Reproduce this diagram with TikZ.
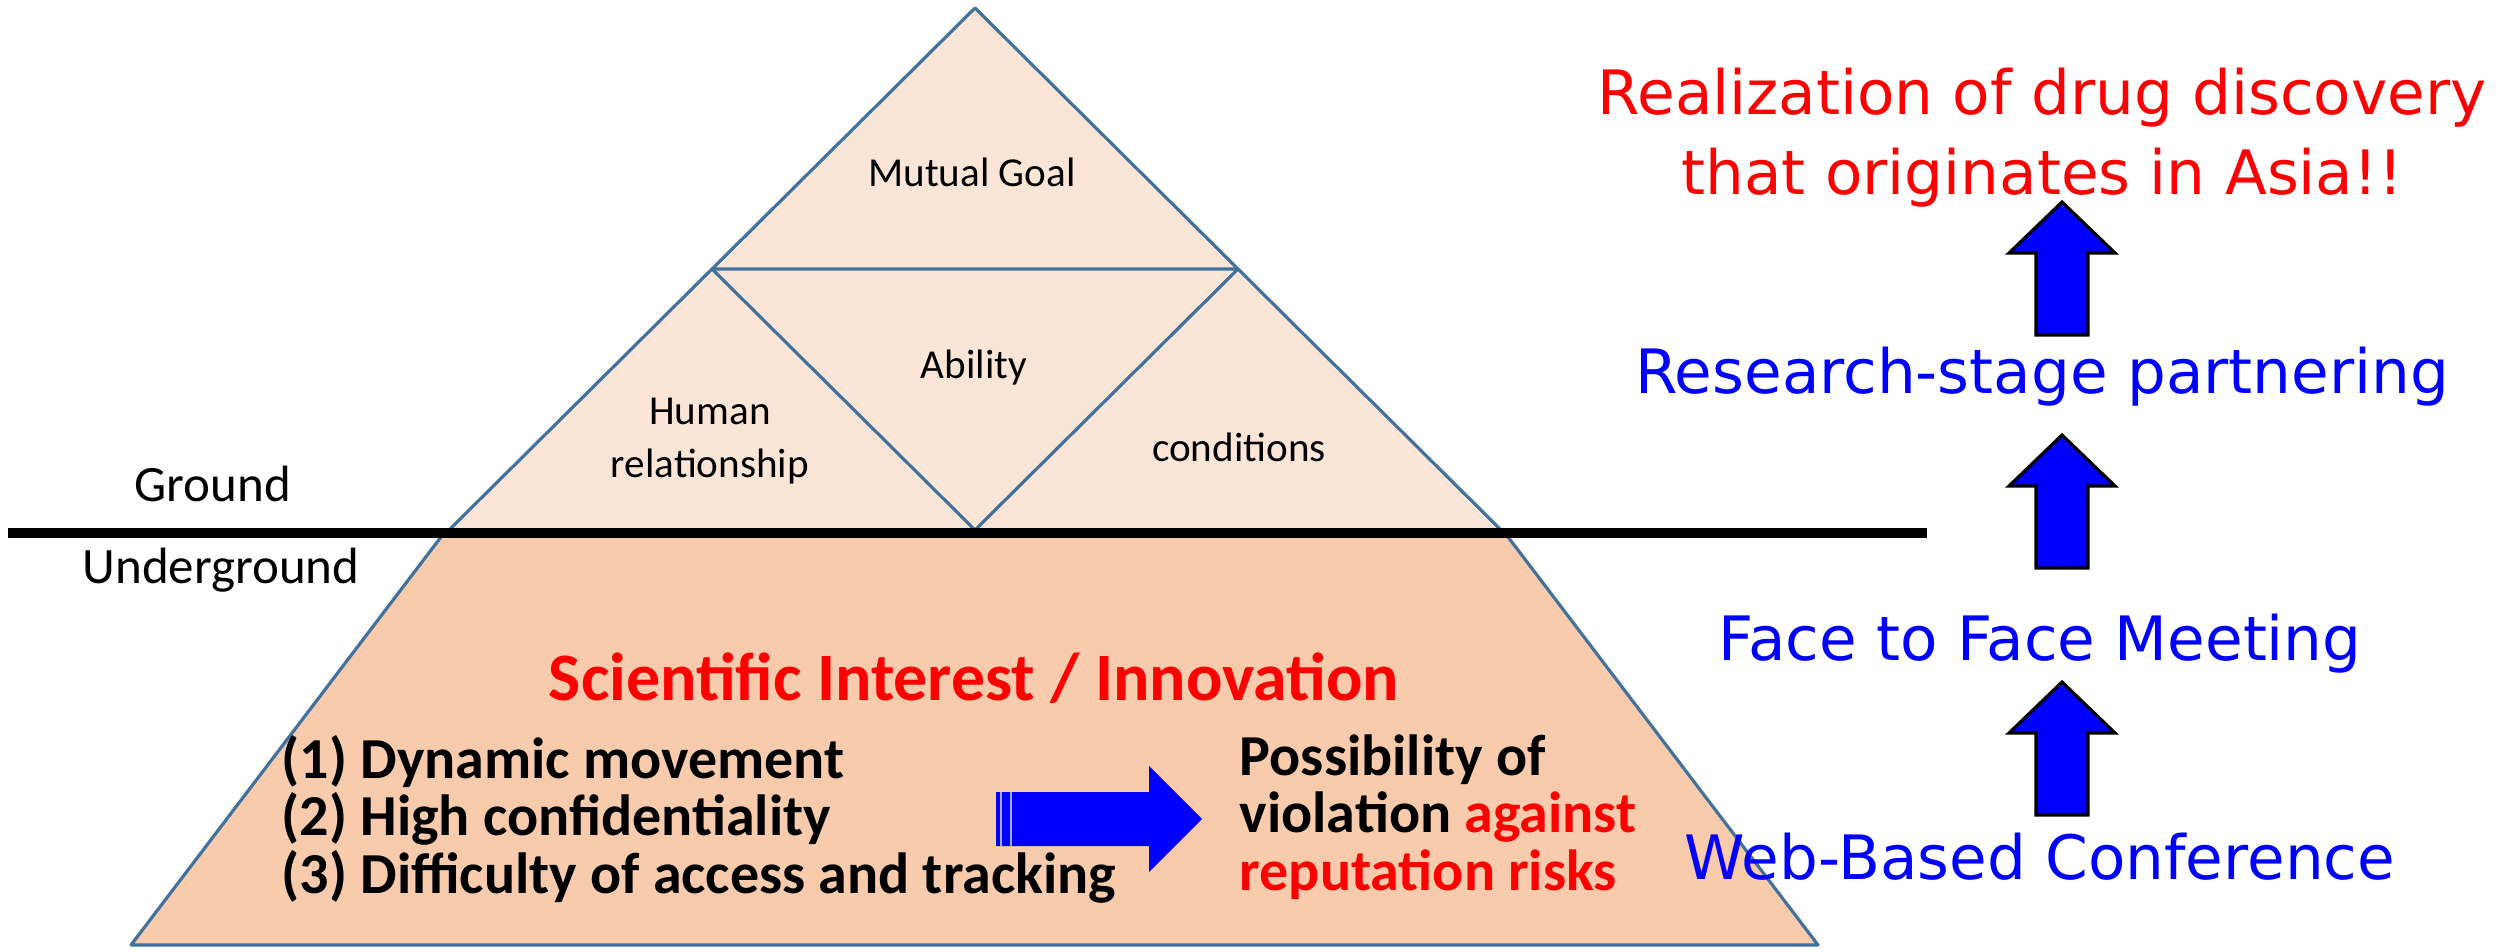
\documentclass[tikz,border=0pt]{standalone}
\usepackage{fontspec}
\setmainfont{Carlito}
\newfontfamily\verdfont{DejaVu Sans}
\usepackage{xcolor}
\usepackage{tikz}
\usetikzlibrary{calc}
\definecolor{peachlight}{HTML}{FBE5D6}
\definecolor{peach}{HTML}{F8CBAD}
\definecolor{edgeblue}{HTML}{41719C}

\begin{document}
\begin{tikzpicture}[
    x=0.01cm, y=-0.01cm,
    face/.style={fill=peachlight, draw=edgeblue, line width=0.9pt, line join=round},
    basement/.style={fill=peach, draw=edgeblue, line width=0.9pt, line join=round},
    tag/.style={font=\fontsize{11.7}{14.8}\selectfont, align=center, anchor=base},
    level/.style={font=\fontsize{14.5}{17}\selectfont, anchor=base},
    point/.style={font=\bfseries\fontsize{16.5}{16.3}\selectfont, align=left, anchor=base west},
    stage/.style={font=\verdfont\fontsize{17.4}{22.5}\selectfont, text=blue, anchor=base},
    upblock/.style={fill=blue, draw=black, line width=0.9pt},
    every node/.style={inner sep=0pt}
]
\useasboundingbox (0,0) rectangle (2497,951);

% pyramid above ground
\coordinate (apex) at (975,8);
\coordinate (gl) at (449,530);
\coordinate (gr) at (1501,530);
\coordinate (mid) at (975,530);
\coordinate (ml) at ($(apex)!0.5!(gl)$);
\coordinate (mr) at ($(apex)!0.5!(gr)$);
\draw[face] (apex) -- (gl) -- (gr) -- cycle;
\draw[face] (ml) -- (mr) -- (mid) -- cycle;

% pyramid below ground
\draw[basement] (444,533) -- (1505,533) -- (1818,945) -- (131,945) -- cycle;

% ground line
\draw[line width=3.1pt] (8,533) -- (1927,533);

% base anchor of a multi-line node = its last line
\node[tag] (goal) at (972,186) {Mutual Goal};
\node[tag] (ability) at (974,378) {Ability};
\node[tag] (human) at (710,477) {Human\\relationship};
\node[tag] (cond) at (1239,461) {conditions};
\node[level] (ground) at (213,501) {Ground};
\node[level] (under) at (221,583) {Underground};

\node[font=\bfseries\fontsize{19.3}{23}\selectfont, text=red, anchor=base] (sci) at (974,700) {Scientific Interest / Innovation};
\node[point] (items) at (281,893) {(1) Dynamic movement\\(2) High confidentiality\\(3) Difficulty of access and tracking};
\node[point] (risk) at (1239,890) {Possibility of\\violation \textcolor{red}{against}\\\textcolor{red}{reputation risks}};

% striped arrow
\coordinate (risktail) at (996,819);
\coordinate (risktip) at (1202,819);
\fill[blue] ($(risktail)+(0,-27)$) -- ($(risktip)+(-53,-27)$) -- ($(risktip)+(-53,-53)$)
    -- (risktip) -- ($(risktip)+(-53,53)$) -- ($(risktip)+(-53,27)$) -- ($(risktail)+(0,27)$) -- cycle;
\foreach \sx in {5,15}
    \draw[blue!35!white, line width=0.3pt] ($(risktail)+(\sx,-27)$) -- ($(risktail)+(\sx,27)$);

% stages
\node[stage, text=red, align=center] (asia) at (2042,194) {Realization of drug discovery\\that originates in Asia!!};
\node[stage] (partner) at (2042,393) {Research-stage partnering};
\node[stage] (f2f) at (2040,660) {Face to Face Meeting};
\node[stage] (web) at (2040,879) {Web-Based Conference};

\foreach \tipy [count=\i] in {202,435,682} {
    \coordinate (tip\i) at (2062,\tipy);
    \draw[upblock] (tip\i) -- ++(53,51) -- ++(-27,0) -- ++(0,82) -- ++(-52,0)
        -- ++(0,-82) -- ++(-27,0) -- cycle;
}

\end{tikzpicture}
\end{document}
